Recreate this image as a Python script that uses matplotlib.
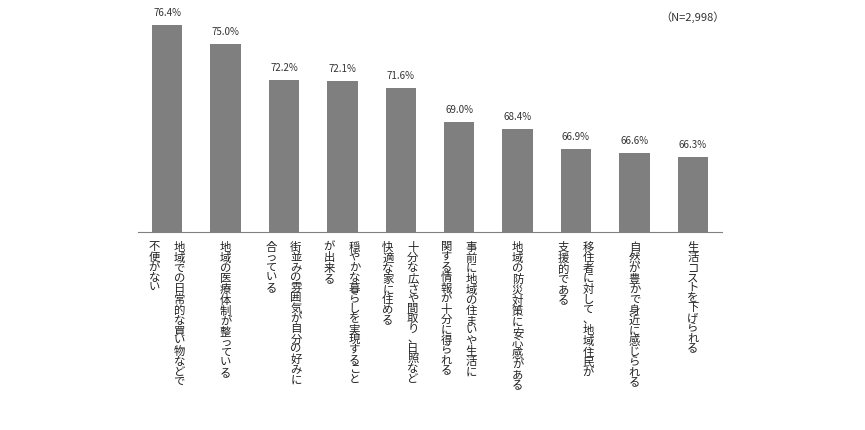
import matplotlib
matplotlib.use("Agg")
import matplotlib.pyplot as plt

plt.rcParams['font.family'] = ['Noto Sans CJK JP', 'DejaVu Sans']

labels = [
    ["地域での日常的な買い物などで", "不便がない"],
    ["地域の医療体制が整っている"],
    ["街並みの雰囲気が自分の好みに", "合っている"],
    ["穏やかな暮らしを実現すること", "が出来る"],
    ["十分な広さや間取り、日照など", "快適な家に住める"],
    ["事前に地域の住まいや生活に", "関する情報が十分に得られる"],
    ["地域の防災対策に安心感がある"],
    ["移住者に対して、地域住民が", "支援的である"],
    ["自然が豊かで身近に感じられる"],
    ["生活コストを下げられる"],
]
values = [76.4, 75.0, 72.2, 72.1, 71.6, 69.0, 68.4, 66.9, 66.6, 66.3]

fig = plt.figure(figsize=(8.65, 4.30), dpi=100)
ax = fig.add_axes([138/865, 1-232/430, (722-138)/865, (232-10)/430])
x = list(range(len(values)))
ax.bar(x, values, width=0.52, color='#7f7f7f')
ax.set_xlim(-0.5, len(values)-0.5)
ymin = 60.5
ax.set_ylim(ymin, ymin + 222/13.0)
for s in ['top', 'right', 'left']:
    ax.spines[s].set_visible(False)
ax.spines['bottom'].set_color('#808080')
ax.set_yticks([])
ax.set_xticks([])
for xi, v in zip(x, values):
    ax.annotate(f"{v:.1f}%", (xi, v), xytext=(0, 5), textcoords='offset points',
                ha='center', va='bottom', fontsize=7, color='#333333')
for xi, cols in zip(x, labels):
    n = len(cols)
    for ci, col in enumerate(cols):
        if n == 1:
            dx = 0
        else:
            dx = 12 if ci == 0 else -13
        ax.annotate("\n".join(col), (xi, ymin), xytext=(dx, -10), textcoords='offset pixels',
                    ha='center', va='top', fontsize=8.2, linespacing=1.0, color='#222222',
                    annotation_clip=False)
fig.text(725/865, 1-17/430, "（N=2,998）", ha='right', va='center', fontsize=8, color='#333333')
fig.savefig("out.png", dpi=100)
